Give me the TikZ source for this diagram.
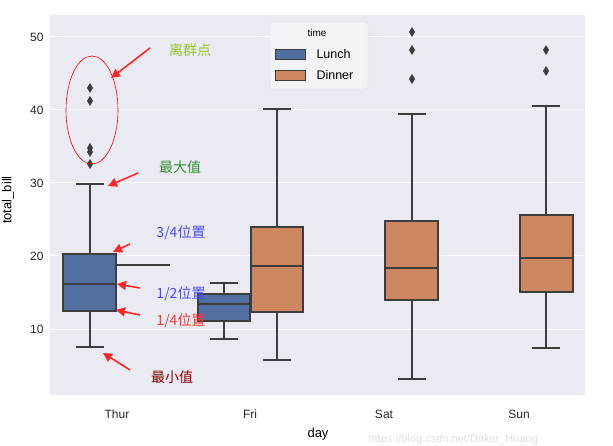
\documentclass[tikz,border=0pt]{standalone}
\usepackage{fontspec}
\setmainfont{Liberation Sans}
\newfontfamily\cjk{Noto Sans CJK SC}
\usetikzlibrary{arrows.meta}
\definecolor{bgc}{RGB}{234,234,242}
\definecolor{lunch}{RGB}{82,111,162}
\definecolor{dinner}{RGB}{204,135,96}
\definecolor{edge}{RGB}{61,61,61}
\tikzset{
  box/.style={draw=edge,line width=1.4pt},
  wh/.style={draw=edge,line width=1.4pt},
  outl/.style={fill=edge,draw=none},
  ann/.style={draw=red!85,fill=red!85,line width=1.6pt,-{Triangle[length=9pt,width=9pt]}},
  lbl/.style={font=\cjk\fontsize{14}{16}\selectfont},
  tick/.style={font=\fontsize{12}{14}\selectfont,text=black!85}
}
\newcommand{\diam}[2]{\fill[outl] (#1,#2+5) -- (#1+3,#2) -- (#1,#2-5) -- (#1-3,#2) -- cycle;}
\begin{document}
\begin{tikzpicture}[x=1pt,y=-1pt]
\useasboundingbox (0,0) rectangle (613,446);
\fill[white] (0,0) rectangle (613,446);
\fill[bgc] (50,15) rectangle (585,395);
\foreach \y in {37,110,183,256,329} \draw[white,line width=1pt] (50,\y) -- (585,\y);
\foreach \y/\t in {37/50,110/40,183/30,256/20,329/10} \node[tick,anchor=east] (yt\t) at (47,\y) {\t};
\foreach \x/\t in {117/Thur,250/Fri,384/Sat,519/Sun} \node[tick] (xt\t) at (\x,414) {\t};
\node[font=\fontsize{13}{15}\selectfont] (xl) at (318,434) {day};
\node[font=\fontsize{13}{15}\selectfont,rotate=90] (yl) at (8,200) {total\_bill};
% Thur lunch
\draw[wh] (90,311) -- (90,347) (76,347) -- (104,347);
\draw[wh] (90,254) -- (90,184) (76,184) -- (104,184);
\filldraw[box,fill=lunch] (63,254) rectangle (116,311);
\draw[wh] (63,284) -- (116,284);
\draw[wh] (116,265) -- (170,265);
\diam{90}{88}\diam{90}{101}\diam{90}{148}\diam{90}{152}\diam{90}{164}
% Fri lunch
\draw[wh] (224,321) -- (224,339) (210,339) -- (238,339);
\draw[wh] (224,294) -- (224,283) (210,283) -- (238,283);
\filldraw[box,fill=lunch] (198,294) rectangle (250,321);
\draw[wh] (198,304) -- (250,304);
% Fri dinner
\draw[wh] (277,312) -- (277,360) (263,360) -- (291,360);
\draw[wh] (277,227) -- (277,109) (263,109) -- (291,109);
\filldraw[box,fill=dinner] (251,227) rectangle (303,312);
\draw[wh] (251,266) -- (303,266);
% Sat
\draw[wh] (412,300) -- (412,379) (398,379) -- (426,379);
\draw[wh] (412,221) -- (412,114) (398,114) -- (426,114);
\filldraw[box,fill=dinner] (385,221) rectangle (438,300);
\draw[wh] (385,268) -- (438,268);
\diam{412}{32}\diam{412}{50}\diam{412}{79}
% Sun
\draw[wh] (546,292) -- (546,348) (532,348) -- (560,348);
\draw[wh] (546,215) -- (546,106) (532,106) -- (560,106);
\filldraw[box,fill=dinner] (520,215) rectangle (573,292);
\draw[wh] (520,258) -- (573,258);
\diam{546}{50}\diam{546}{71}
% legend
\filldraw[draw=black!15,fill=bgc!60!white,rounded corners=2pt] (270,22) rectangle (368,89);
\node[font=\fontsize{10}{12}\selectfont] (lt) at (317,33) {time};
\filldraw[draw=edge,fill=lunch] (275,49) rectangle (305,59);
\filldraw[draw=edge,fill=dinner] (275,70) rectangle (305,80);
\node[anchor=west,font=\fontsize{12.5}{14}\selectfont] (l1) at (313,54) {Lunch};
\node[anchor=west,font=\fontsize{12.5}{14}\selectfont] (l2) at (313,75) {Dinner};
% annotations
\draw[red,line width=0.6pt] (92,110) ellipse (26 and 54);
\node[lbl,text=yellow!60!green!90!black] (a1) at (190,50) {离群点};
\node[lbl,text=green!45!black!80] (a2) at (180,167) {最大值};
\node[lbl,text=blue!70!white] (a3) at (181,233) {3/4位置};
\node[lbl,text=blue!70!white] (a4) at (181,294) {1/2位置};
\node[lbl,text=red!80] (a5) at (181,321) {1/4位置};
\node[lbl,text=red!55!black] (a6) at (172,377) {最小值};
\coordinate (s1) at (150,48); \coordinate (e1) at (111,78);
\coordinate (s2) at (138,173); \coordinate (e2) at (108,186);
\coordinate (s3) at (130,244); \coordinate (e3) at (113,252);
\coordinate (s4) at (140,288); \coordinate (e4) at (117,284);
\coordinate (s5) at (140,315); \coordinate (e5) at (116,310);
\coordinate (s6) at (130,370); \coordinate (e6) at (103,353);
\foreach \i in {1,...,6} \draw[ann] (s\i) -- (e\i);
\node[anchor=west,text=black!12,font=\fontsize{11}{12}\selectfont] (wm) at (365,440) {https://blog.csdn.net/Daker\_Huang};
\end{tikzpicture}
\end{document}
